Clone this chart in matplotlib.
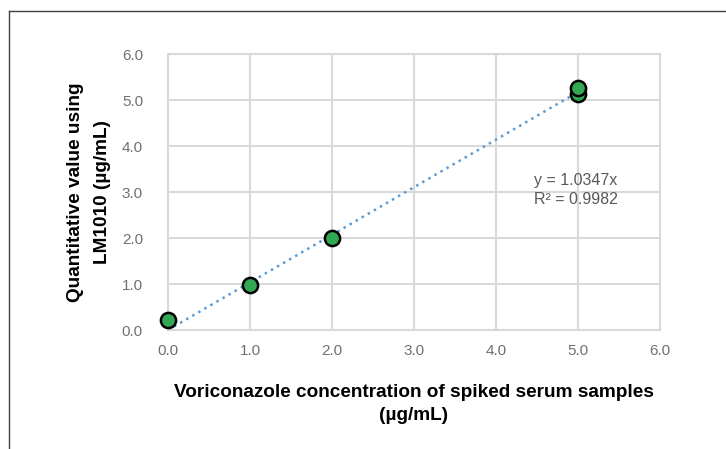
import numpy as np
import matplotlib.pyplot as plt
from matplotlib.lines import Line2D

plt.rcParams['font.family'] = ['Liberation Sans', 'DejaVu Sans']

# spiked concentration vs measured value
spiked = [0.0, 1.0, 2.0, 5.0, 5.0]
measured = [0.22, 0.98, 1.99, 5.12, 5.27]
slope = 1.0347
r2 = 0.9982
ticks = [0, 1, 2, 3, 4, 5, 6]

fig = plt.figure(figsize=(7.26, 4.49), dpi=100)
ax = fig.add_axes([168/726, 119/449, 492/726, 276/449])

ax.set_xlim(0, 6)
ax.set_ylim(0, 6)
ax.set_xticks(ticks)
ax.set_yticks(ticks)
ax.set_xticklabels(['%.1f' % t for t in ticks])
ax.set_yticklabels(['%.1f' % t for t in ticks])
ax.grid(True, color='#d9d9d9', lw=1.5)
ax.set_axisbelow(True)
for s in ax.spines.values():
	s.set_color('#d9d9d9')
	s.set_linewidth(1.5)
ax.tick_params(length=0, labelsize=11, labelcolor='#707070')
ax.tick_params(axis='y', pad=18)
ax.tick_params(axis='x', pad=10)

# trendline through origin
xs = np.array([0.0, 5.0])
ax.plot(xs, slope * xs, color='#5b9bd5', lw=1.8, ls=(0, (1, 1.8)), zorder=2)

ax.scatter(spiked, measured, s=120, color='#33a852', edgecolor='black', lw=1.8, zorder=3, clip_on=False)

ax.text(4.46, 3.25, 'y = %.4fx' % slope, fontsize=11.5, color='#595959', va='center')
ax.text(4.46, 2.83, 'R² = %.4f' % r2, fontsize=11.5, color='#595959', va='center')

ax.set_ylabel('Quantitative value using\nLM1010 (µg/mL)', fontsize=13.7, fontweight='bold', linespacing=1.75)
ax.yaxis.set_label_coords(-0.116, 0.5)
ax.set_xlabel('Voriconazole concentration of spiked serum samples\n(µg/mL)', fontsize=13.7, fontweight='bold', labelpad=19, linespacing=1.45)

# frame around figure (top and left only visible)
fig.add_artist(Line2D([9/726, 1], [1 - 11/449, 1 - 11/449], color='#404040', lw=1))
fig.add_artist(Line2D([9/726, 9/726], [0, 1 - 11/449], color='#404040', lw=1))

fig.savefig('out.png', dpi=100)
